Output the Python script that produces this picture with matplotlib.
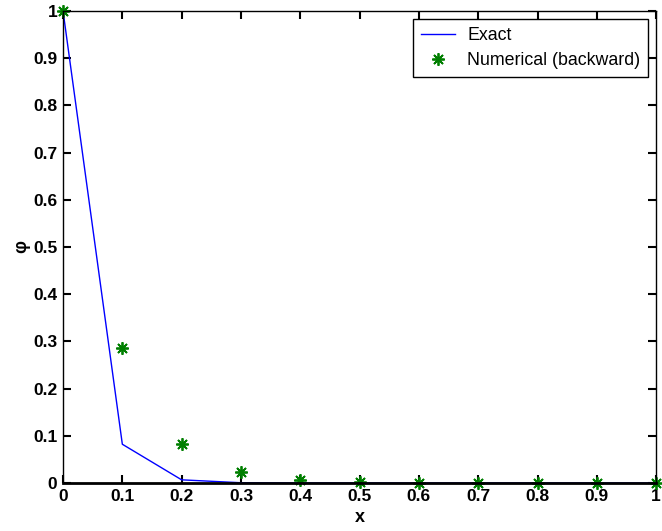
import matplotlib
matplotlib.use('Agg')
import matplotlib.pyplot as plt

plt.rcParams['font.family'] = ['Liberation Sans', 'DejaVu Sans']

# grid points and solutions
x_vals = [0.0, 0.1, 0.2, 0.3, 0.4, 0.5, 0.6, 0.7, 0.8, 0.9, 1.0]
exact = [1.0, 0.0821, 0.0067, 0.00055, 0.000045, 0.0000037, 0.0, 0.0, 0.0, 0.0, 0.0]
backward = [1.0, 0.2857, 0.0816, 0.0233, 0.0067, 0.0019, 0.00054, 0.00015, 0.00004, 0.00001, 0.0]

x_ticks = [0, 0.1, 0.2, 0.3, 0.4, 0.5, 0.6, 0.7, 0.8, 0.9, 1]
y_ticks = [0, 0.1, 0.2, 0.3, 0.4, 0.5, 0.6, 0.7, 0.8, 0.9, 1]
tick_labels = ['0', '0.1', '0.2', '0.3', '0.4', '0.5', '0.6', '0.7', '0.8', '0.9', '1']

fig = plt.figure(figsize=(6.62, 5.31), dpi=100)
ax = fig.add_axes([0.0952, 0.0904, 0.896, 0.889])

ax.plot(x_vals, exact, color='blue', lw=1.0, label='Exact')
ax.plot(x_vals, backward, ls='none', marker=(8, 2, 0), color='#007f00',
        mew=1.3, ms=9, label='Numerical (backward)', clip_on=False)

ax.set_xlim(0, 1)
ax.set_ylim(0, 1)
ax.set_xticks(x_ticks)
ax.set_yticks(y_ticks)
ax.set_xticklabels(tick_labels)
ax.set_yticklabels(tick_labels)
ax.tick_params(direction='in', top=True, right=True, length=6, width=1.5,
               labelsize=12.5, pad=4)
for lab in ax.get_xticklabels() + ax.get_yticklabels():
    lab.set_fontweight('bold')
for sp in ax.spines.values():
    sp.set_linewidth(1.0)
ax.spines['bottom'].set_linewidth(2.0)

ax.set_xlabel('x', fontsize=13, fontweight='bold', labelpad=4)
ax.set_ylabel('φ', fontsize=13, fontweight='bold', labelpad=2)

leg = ax.legend(loc='upper right', fancybox=False, edgecolor='black',
                framealpha=1, fontsize=12.8, borderaxespad=0.45,
                handlelength=1.9, handletextpad=0.7, labelspacing=0.45,
                borderpad=0.45)
leg.get_frame().set_linewidth(1.0)

fig.savefig('out.png', dpi=100)
